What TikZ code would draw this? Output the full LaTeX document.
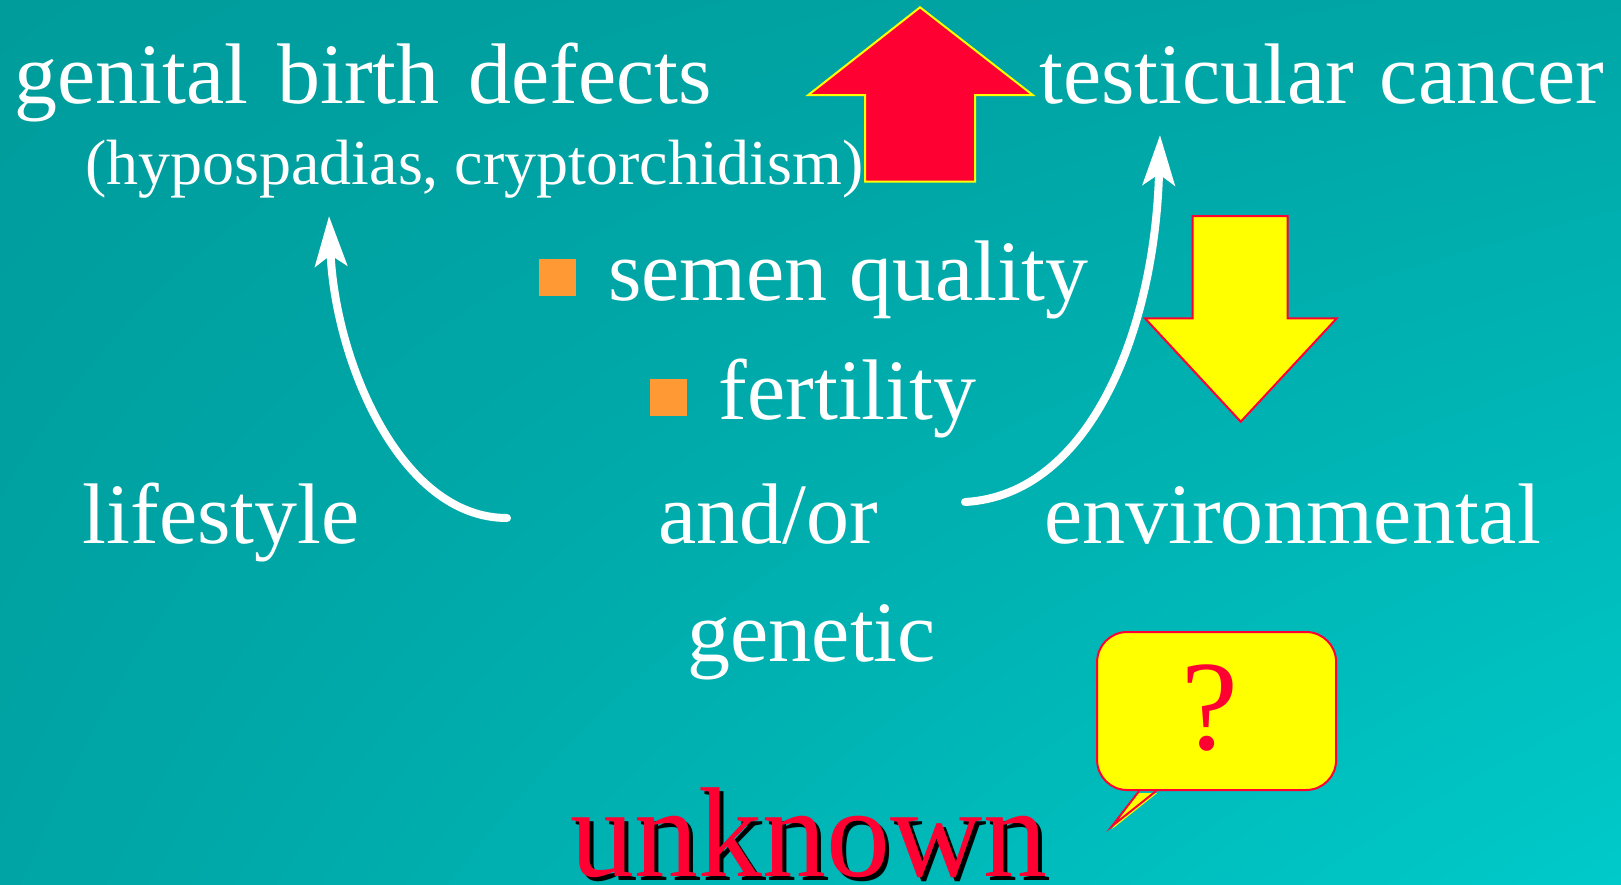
\documentclass[tikz,border=0pt]{standalone}
\usepackage{fontspec}
\setmainfont{Liberation Serif}
\usetikzlibrary{arrows.meta, positioning, shadings}
\definecolor{slideRed}{HTML}{FF0033}
\definecolor{slideYellow}{HTML}{FFFF00}
\definecolor{slideOrange}{HTML}{FF9933}
\definecolor{tealUL}{HTML}{009C9C}
\definecolor{tealUR}{HTML}{00A6A6}
\definecolor{tealLL}{HTML}{00A4A4}
\definecolor{tealLR}{HTML}{00CACA}
\begin{document}
\begin{tikzpicture}[x=1pt, y=-1pt,
  bigtext/.style={font=\fontsize{86}{90}\selectfont, text=white, inner sep=0pt, anchor=base west},
  smalltext/.style={bigtext, font=\fontsize{64}{70}\selectfont},
  redtext/.style={font=\fontsize{128}{130}\selectfont, text=slideRed, inner sep=0pt, anchor=base west},
  bulletsq/.style={fill=slideOrange, minimum size=37pt, inner sep=0pt},
  curve/.style={draw=white, line width=8pt, line cap=round,
    -{Stealth[length=50pt, width=32pt, inset=11pt]}},
  upblock/.style={fill=slideRed, draw=slideYellow, line width=2pt, line join=miter},
  downblock/.style={fill=slideYellow, draw=slideRed, line width=2pt, line join=miter},
  bubble/.style={fill=slideYellow, draw=slideRed, line width=2pt, rounded corners=30pt,
    minimum width=239pt, minimum height=158pt, inner sep=0pt},
]
\useasboundingbox (0,0) rectangle (1621,884);
\shade[upper left=tealUL, upper right=tealUR, lower left=tealLL, lower right=tealLR]
  (0,0) rectangle (1621,884);

% outcomes
\node[bigtext] (defects) at (14.5,103) {\makebox[697pt][s]{genital birth defects}};
\node[smalltext] (examples) at (85,184) {(hypospadias, cryptorchidism)};
\node[bigtext] (cancer) at (1039,103) {\makebox[565pt][s]{testicular cancer}};

% bullets
\node[bigtext] (semen) at (608,300) {semen quality};
\node[bulletsq] (b1) at (557,277) {};
\node[bigtext] (fertility) at (718.5,419) {fertility};
\node[bulletsq] (b2) at (668,397) {};

% causes
\node[bigtext] (lifestyle) at (82.7,543) {lifestyle};
\node[bigtext] (andor) at (658.5,543) {and/or};
\node[bigtext] (environ) at (1044,543) {environmental};
\node[bigtext] (genetic) at (687.5,661.6) {genetic};

% curved arrows
\coordinate (lfrom) at (507,518);
\coordinate (lto) at (329,216);
\coordinate (rfrom) at (965,502);
\coordinate (rto) at (1160,135);
\draw[curve] (lfrom) .. controls (400,518) and (335,360) .. (lto);
\draw[curve] (rfrom) .. controls (1090,495) and (1155,330) .. (rto);

% block arrows
\draw[upblock] (920,7.3) -- (1032.7,95) -- (975,95) -- (975,181.7)
  -- (865,181.7) -- (865,95) -- (808.3,95) -- cycle;
\draw[downblock] (1240.7,421.7) -- (1336.7,318.3) -- (1287.7,318.3) -- (1287.7,216)
  -- (1192.7,216) -- (1192.7,318.3) -- (1145,318.3) -- cycle;

% speech bubble
\node[bubble] (qbox) at (1216.6,711) {};
\node[redtext, anchor=base] (qmark) at (1210,749) {?};
\fill[slideYellow] ([xshift=41pt,yshift=-2pt]qbox.south west) -- ++(-25,36)
  -- ([xshift=61pt,yshift=-2pt]qbox.south west) -- cycle;
\draw[slideRed, line width=2pt] ([xshift=43pt]qbox.south west) -- ++(-27,35)
  -- ([xshift=60pt]qbox.south west);

% unknown
\node[redtext, text=black] (unknownshadow) at (574.7,880) {unknown};
\node[redtext] (unknown) at (570.7,876) {unknown};
\end{tikzpicture}
\end{document}
